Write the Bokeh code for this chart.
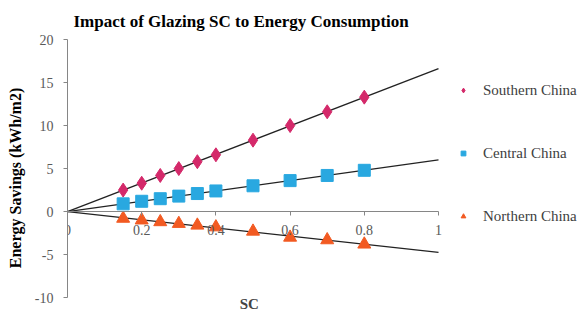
import numpy as np
from bokeh.plotting import figure
from bokeh.models import Range1d, Legend, LegendItem, Label, FixedTicker
from bokeh.embed import file_html
from bokeh.resources import INLINE

sc = [0.15, 0.2, 0.25, 0.3, 0.35, 0.4, 0.5, 0.6, 0.7, 0.8]
southern = [2.5, 3.3, 4.2, 5.0, 5.8, 6.6, 8.3, 10.0, 11.6, 13.3]
central = [0.9, 1.2, 1.5, 1.8, 2.1, 2.4, 3.0, 3.6, 4.2, 4.8]
northern = [-0.8, -1.0, -1.2, -1.4, -1.6, -1.8, -2.3, -3.0, -3.3, -3.8]
names = ["Southern China", "Central China", "Northern China"]
x_ticks = [0, 0.2, 0.4, 0.6, 0.8, 1]
x_labels = ["0", "0.2", "0.4", "0.6", "0.8", "1"]
y_ticks = [-10, -5, 0, 5, 10, 15, 20]
y_labels = ["-10", "-5", "0", "5", "10", "15", "20"]
trend_x = [0, 1]

FONT = "Liberation Serif"

p = figure(width=584, height=316, output_backend="svg", toolbar_location=None,
           x_range=Range1d(0, 1.3935), y_range=Range1d(-12.19, 20),
           min_border_left=67, min_border_right=0, min_border_top=37, min_border_bottom=0)
p.outline_line_color = None
p.grid.visible = False

p.title.text = "Impact of Glazing SC to Energy Consumption"
p.title.text_font = FONT
p.title.text_font_size = "17px"
p.title.text_font_style = "bold"
p.title.align = "left"
p.title.offset = 6
p.title.standoff = 18
p.title.text_color = "#000000"

# x axis crossing at zero
xa = p.xaxis[0]
xa.fixed_location = 0
xa.bounds = (0, 1)
xa.ticker = FixedTicker(ticks=x_ticks)
xa.axis_line_color = "#868686"
xa.major_tick_line_color = "#868686"
xa.major_tick_out = 4
xa.major_tick_in = 0
xa.minor_tick_line_color = None
xa.major_label_text_font = FONT
xa.major_label_text_font_size = "14px"
xa.major_label_text_color = "#595959"
xa.major_label_standoff = 9
xa.major_label_overrides = dict(zip(x_ticks, x_labels))

ya = p.yaxis[0]
ya.bounds = (-10, 20)
ya.ticker = FixedTicker(ticks=y_ticks)
ya.axis_line_color = "#868686"
ya.major_tick_line_color = "#868686"
ya.major_tick_out = 4
ya.major_tick_in = 0
ya.minor_tick_line_color = None
ya.major_label_text_font = FONT
ya.major_label_text_font_size = "14px"
ya.major_label_text_color = "#595959"
ya.major_label_standoff = 10
ya.major_label_overrides = dict(zip(y_ticks, y_labels))
ya.axis_label = "Energy Savings (kWh/m2)"
ya.axis_label_text_font = FONT
ya.axis_label_text_font_size = "16px"
ya.axis_label_text_font_style = "bold"
ya.axis_label_text_color = "#000000"
ya.axis_label_standoff = 8

series = [southern, central, northern]
markers = ["diamond", "square", "triangle"]
sizes = [14, 12, 13]
colors = ["#D4296A", "#29A8E0", "#F25A22"]

items = []
sx = np.array(sc)
for name, ys, m, s, c in zip(names, series, markers, sizes, colors):
    yv = np.array(ys)
    slope = float((sx * yv).sum() / (sx * sx).sum())
    p.line(trend_x, [slope * t for t in trend_x], line_color="#222222", line_width=1.3)
    r = p.scatter(sc, ys, marker=m, size=s, fill_color=c, line_color=c)
    items.append(LegendItem(label=name, renderers=[r]))

legend = Legend(items=items, location=(390, 90), spacing=43, padding=0, margin=0,
                glyph_width=12, glyph_height=20, label_standoff=14,
                label_text_font=FONT, label_text_font_size="15px", label_text_color="#404040",
                border_line_alpha=0, background_fill_alpha=0)
p.add_layout(legend, "center")

p.add_layout(Label(x=0.49, y=-10.7, text="SC", text_font=FONT, text_font_size="15px",
                   text_font_style="bold", text_align="center", text_baseline="middle"))

open("out.html", "w").write(file_html(p, INLINE))
